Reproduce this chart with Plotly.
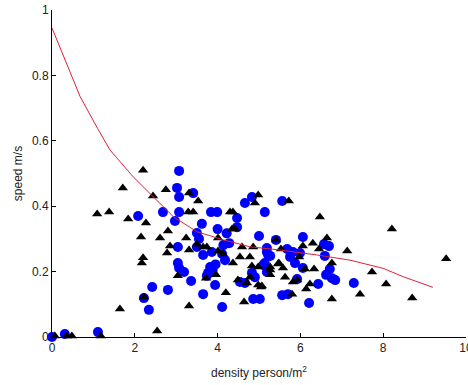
import plotly.graph_objects as go

# Triangles (black)
tri_x = [2.20, 1.71, 1.38, 1.09, 1.84, 2.44, 2.75, 2.27, 2.15, 2.61, 2.80, 2.85, 2.20, 2.17,
         3.31, 3.53, 3.29, 3.41, 3.24, 3.31, 3.50, 3.65, 3.74, 3.04, 3.96, 3.72, 3.31, 4.20,
         1.64, 2.54, 2.22, 4.30, 4.37, 4.42, 4.35, 4.01, 4.01, 4.13, 4.59, 4.86, 4.54, 4.78,
         4.37, 4.83, 4.98, 5.27, 5.46, 4.49, 4.71, 4.78, 4.98, 5.05, 4.98, 4.90, 4.64, 5.41,
         5.72, 6.47, 8.21, 9.52, 6.64, 6.30, 6.45, 7.13, 6.06, 5.53, 6.76, 5.97, 6.11, 6.33,
         7.73, 8.07, 7.44, 8.70, 6.76, 5.80, 6.14, 6.23, 5.82, 5.63, 5.48, 5.58, 5.27, 5.27,
         5.07, 5.92, 2.78, 0.07, 0.36, 0.48, 1.18]
tri_y = [0.510, 0.456, 0.382, 0.376, 0.361, 0.431, 0.450, 0.349, 0.306, 0.303, 0.324, 0.278, 0.242, 0.226,
         0.440, 0.416, 0.382, 0.382, 0.303, 0.266, 0.284, 0.275, 0.275, 0.187, 0.190, 0.180, 0.095, 0.135,
         0.086, 0.018, 0.122, 0.382, 0.382, 0.330, 0.330, 0.303, 0.263, 0.254, 0.275, 0.275, 0.245, 0.245,
         0.226, 0.217, 0.214, 0.214, 0.223, 0.174, 0.165, 0.183, 0.159, 0.153, 0.434, 0.410, 0.107, 0.297,
         0.416, 0.367, 0.330, 0.239, 0.303, 0.287, 0.269, 0.263, 0.278, 0.269, 0.226, 0.245, 0.208, 0.208,
         0.199, 0.162, 0.131, 0.119, 0.116, 0.131, 0.147, 0.162, 0.168, 0.183, 0.226, 0.211, 0.205, 0.190,
         0.156, 0.174, 0.257, 0.003, 0.003, 0.003, 0.003]

# Circles (blue)
dot_x = [3.07, 3.02, 3.07, 3.41, 2.08, 2.68, 3.07, 2.97, 3.84, 3.99, 3.62, 3.50, 3.55, 4.00,
         4.47, 4.47, 4.22, 4.28, 4.14, 3.04, 3.04, 3.07, 3.19, 3.36, 3.82, 3.95, 3.88, 3.74,
         3.94, 3.65, 4.11, 2.42, 2.80, 2.22, 2.34, 4.66, 4.83, 5.14, 5.00, 5.19, 5.27, 5.10,
         4.86, 5.02, 4.54, 4.66, 5.56, 5.41, 6.06, 6.69, 6.57, 5.68, 5.82, 5.99, 6.59, 5.22,
         5.19, 5.75, 5.87, 6.71, 6.06, 6.62, 6.76, 6.84, 5.92, 6.43, 7.29, 5.56, 5.70, 6.21,
         0.00, 0.31, 1.11, 3.50, 3.65, 3.86, 4.18, 4.11, 3.77, 4.83, 4.90, 5.14, 5.19]
dot_y = [0.508, 0.456, 0.428, 0.440, 0.370, 0.382, 0.382, 0.355, 0.382, 0.382, 0.346, 0.318, 0.300, 0.330,
         0.364, 0.336, 0.317, 0.287, 0.281, 0.275, 0.226, 0.211, 0.199, 0.171, 0.214, 0.222, 0.205, 0.187,
         0.159, 0.131, 0.092, 0.153, 0.144, 0.119, 0.083, 0.410, 0.428, 0.382, 0.309, 0.260, 0.248, 0.220,
         0.116, 0.116, 0.168, 0.165, 0.416, 0.297, 0.306, 0.278, 0.284, 0.269, 0.260, 0.257, 0.248, 0.251,
         0.272, 0.245, 0.226, 0.208, 0.211, 0.190, 0.180, 0.174, 0.177, 0.162, 0.165, 0.128, 0.131, 0.104,
         0.000, 0.009, 0.015, 0.275, 0.251, 0.260, 0.235, 0.254, 0.196, 0.196, 0.183, 0.226, 0.199]

# Fitted curve (red)
fit_x = [0.00, 0.36, 0.68, 1.10, 1.40, 1.96, 2.45, 2.93, 3.50, 4.14, 4.78, 5.51, 6.39, 7.20, 8.00, 8.49, 9.20]
fit_y = [0.945, 0.832, 0.735, 0.638, 0.572, 0.490, 0.429, 0.368, 0.322, 0.297, 0.276, 0.266, 0.251, 0.235, 0.210, 0.184, 0.152]

x_ticks = [0, 2, 4, 6, 8, 10]
y_ticks = [0, 0.2, 0.4, 0.6, 0.8, 1]
y_tick_text = ["0", "0.2", "0.4", "0.6", "0.8", "1"]

fig = go.Figure()
fig.add_trace(go.Scatter(x=dot_x, y=dot_y, mode="markers",
                         marker=dict(symbol="circle", size=10, color="#0000FF", line=dict(width=0)),
                         showlegend=False, cliponaxis=False))
fig.add_trace(go.Scatter(x=tri_x, y=tri_y, mode="markers",
                         marker=dict(symbol="triangle-up", size=9, color="#000000", line=dict(width=0)),
                         showlegend=False, cliponaxis=False))
fig.add_trace(go.Scatter(x=fit_x, y=fit_y, mode="lines",
                         line=dict(color="#E0203A", width=1), showlegend=False))

axis_font = dict(family="Liberation Sans, Arial, sans-serif", size=12, color="#222222")
fig.update_layout(
    width=468, height=385,
    margin=dict(l=52, r=2, t=10, b=48, autoexpand=False),
    paper_bgcolor="white", plot_bgcolor="white",
    xaxis=dict(range=[0, 10], tickvals=x_ticks, ticks="inside", ticklen=4, tickcolor="black",
               showline=True, linecolor="black", linewidth=1, showgrid=False, zeroline=False,
               tickfont=axis_font, automargin=False, ticklabeloverflow="allow",
               title=dict(text="density person/m<sup>2</sup>", font=axis_font, standoff=14)),
    yaxis=dict(range=[0, 1], tickvals=y_ticks, ticktext=y_tick_text, ticks="inside", ticklen=4,
               tickcolor="black", showline=True, linecolor="black", linewidth=1, showgrid=False,
               zeroline=False, tickfont=axis_font, automargin=False, ticklabeloverflow="allow",
               title=dict(text="speed m/s", font=axis_font, standoff=6)),
)

fig.write_html("out.html", config={"displayModeBar": False},
               post_script="document.body.style.margin='0';document.body.style.overflow='hidden';")
